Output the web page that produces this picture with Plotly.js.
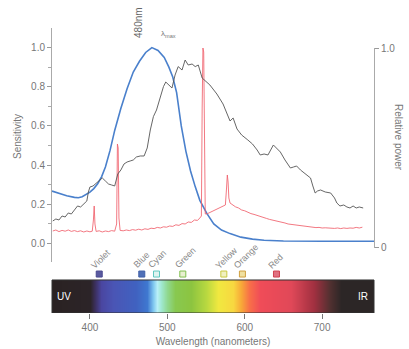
<!DOCTYPE html>
<html><head><meta charset="utf-8">
<script src="https://cdn.plot.ly/plotly-3.0.1.min.js"></script>
<style>html,body{margin:0;padding:0;background:#fff}#chart{width:409px;height:349px}</style>
</head><body><div id="chart"></div>
<script>
// Sensitivity (left axis)
const blueWl = [351,360,370,380,385,390,395,400,405,410,415,420,426,432,440,448,456,464,472,480,488,496,502,507,512,518,524,530,536,542,551,560,570,581,595,610,625,650,700,767];
const blueVal = [0.267,0.255,0.243,0.235,0.233,0.238,0.248,0.262,0.28,0.305,0.34,0.39,0.475,0.577,0.69,0.79,0.875,0.93,0.975,1.0,0.985,0.95,0.9,0.85,0.77,0.6,0.47,0.37,0.29,0.22,0.153,0.10,0.068,0.05,0.032,0.022,0.016,0.012,0.011,0.011];

// Relative power, black (right axis)
const blackWl = [352,356,360,364,368,372,376,380,384,388,392,396,398,400,404,408,412,416,420,424,428,432,436,440,444,448,452,456,460,465,470,474,478,482,486,491,495,498,501,506,510,514,519,523,527,532,536,540,545,549,555,564,572,581,585,590,596,604,610,616,620,625,630,637,641,646,652,659,663,667,672,678,685,688,691,694,698,704,711,716,719,723,728,732,736,740,744,748,753];
const blackVal = [0.135,0.145,0.14,0.16,0.155,0.175,0.17,0.19,0.21,0.205,0.22,0.235,0.28,0.305,0.31,0.325,0.335,0.35,0.335,0.32,0.315,0.31,0.37,0.39,0.42,0.43,0.435,0.44,0.455,0.46,0.46,0.5,0.59,0.657,0.69,0.757,0.807,0.83,0.82,0.80,0.865,0.907,0.89,0.94,0.915,0.92,0.907,0.915,0.85,0.835,0.815,0.77,0.72,0.635,0.65,0.595,0.565,0.54,0.52,0.49,0.465,0.47,0.465,0.515,0.5,0.48,0.44,0.40,0.405,0.41,0.39,0.37,0.35,0.31,0.275,0.285,0.29,0.28,0.275,0.25,0.225,0.21,0.215,0.205,0.2,0.21,0.2,0.205,0.2];

// Relative power, red lamp spectrum (right axis)
const redWl = [352,356,360,364,368,372,376,380,384,388,392,396,400,403,404.5,405.5,406.5,408,412,416,420,424,428,432,434.5,435.5,436.5,437.5,439,443,447,451,455,459,463,467,471,475,479,483,487,491,495,499,503,507,511,515,519,523,527,531,535,539,542,544,545,546,547,548,549,552,556,560,564,568,572,575,576.5,577.5,578.5,579.5,581,584,588,592,596,600,604,608,612,616,620,624,628,632,636,640,644,648,652,656,660,664,668,672,676,680,684,688,692,696,700,704,708,712,716,720,724,728,732,736,740,744,748,752];
const redVal = [0.085,0.09,0.082,0.088,0.084,0.09,0.083,0.087,0.082,0.086,0.08,0.085,0.081,0.084,0.14,0.21,0.12,0.083,0.086,0.08,0.085,0.082,0.087,0.084,0.12,0.52,0.5,0.15,0.088,0.086,0.09,0.087,0.092,0.089,0.094,0.09,0.096,0.093,0.099,0.097,0.103,0.1,0.106,0.104,0.11,0.108,0.116,0.113,0.122,0.12,0.13,0.128,0.14,0.138,0.15,0.16,0.7,1.0,0.98,0.4,0.17,0.172,0.18,0.186,0.195,0.2,0.21,0.215,0.3,0.365,0.33,0.25,0.225,0.215,0.206,0.2,0.19,0.186,0.178,0.172,0.168,0.162,0.158,0.152,0.148,0.143,0.14,0.136,0.132,0.128,0.125,0.12,0.118,0.115,0.113,0.11,0.108,0.107,0.104,0.105,0.102,0.103,0.1,0.101,0.099,0.1,0.098,0.1,0.097,0.1,0.098,0.1,0.099,0.103,0.1,0.104];

// Visible spectrum bar colour stops
const specWl = [351,400,406,414,430,460,474,481,486,492,500,510,530,550,565,585,595,605,620,660,690,710,725,767];
const specColor = ['#2a2222','#2c2428','#3c3060','#4a46a0','#4a55b5','#4062c0','#3f78d0','#80c8f0','#b8f0f8','#a0e8d0','#90d890','#88c850','#8cc440','#b8d840','#f0e840','#f8d840','#f8a838','#f87048','#f04c58','#e04858','#a03040','#503030','#2c2626','#2c2626'];

// Colour names
const colorNames = ['Violet','Blue','Cyan','Green','Yellow','Orange','Red'];
const colorWl = [412,467,486,520,573,597,641];
const colorFill = ['#5a5aa0','#5070b8','#e0f4f0','#e8f0d0','#f0f0c0','#f0e0a0','#e07080'];
const colorEdge = ['#4a4a90','#4060a8','#60c8c0','#80c050','#c8c840','#d0a040','#d04050'];

const xMin = 351, xMax = 767;
const scale = specColor.map((c,i)=>[(specWl[i]-xMin)/(xMax-xMin), c]);

const F = 'Liberation Sans, Arial, sans-serif';
const traces = [
  {type:'heatmap', x:specWl, y:[0,1], z:[specWl,specWl], colorscale:scale, zmin:xMin, zmax:xMax,
   zsmooth:'best', showscale:false, xaxis:'x', yaxis:'y3', hoverinfo:'skip'},
  {type:'scatter', mode:'markers', x:colorWl, y:colorWl.map(()=>1.86), xaxis:'x', yaxis:'y3',
   marker:{symbol:'square', size:6, color:colorFill, line:{color:colorEdge, width:1}}, cliponaxis:false},
  {type:'scatter', mode:'lines', x:redWl, y:redVal, yaxis:'y2', line:{color:'rgba(240,96,108,0.85)', width:1}},
  {type:'scatter', mode:'lines', x:blackWl, y:blackVal, yaxis:'y2', line:{color:'#555', width:0.9}},
  {type:'scatter', mode:'lines', x:blueWl, y:blueVal, yaxis:'y', line:{color:'#4a80cc', width:1.6}}
];

const ann = [
  {text:'Sensitivity', xref:'paper', yref:'paper', x:-0.13, y:0.62, textangle:-90, showarrow:false, font:{family:F,size:10,color:'#777'}},
  {text:'Relative power', xref:'paper', yref:'paper', x:1.1, y:0.615, textangle:90, showarrow:false, font:{family:F,size:10,color:'#777'}},
  {text:'480nm', xref:'x', yref:'paper', x:463, y:1.02, yanchor:'middle', textangle:-90, showarrow:false, font:{family:F,size:10,color:'#666'}},
  {text:'λ<sub>max</sub>', xref:'x', yref:'paper', x:502, y:1.005, showarrow:false, font:{family:F,size:8,color:'#777'}},
  {text:'UV', xref:'x', yref:'y3', x:366, y:0.5, showarrow:false, font:{family:F,size:10,color:'#fff'}},
  {text:'IR', xref:'x', yref:'y3', x:753, y:0.5, showarrow:false, font:{family:F,size:10,color:'#fff'}}
];
colorNames.forEach((n,i)=>ann.push({text:n, xref:'x', yref:'y3', x:colorWl[i], y:2.22, xanchor:'left', yanchor:'bottom', xshift:-13, yshift:-5,
  textangle:-45, showarrow:false, font:{family:F,size:9,color:'#888'}}));

const layout = {
  width:409, height:349, margin:{l:52, r:35, t:28, b:36},
  paper_bgcolor:'#fff', plot_bgcolor:'rgba(0,0,0,0)', showlegend:false,
  font:{family:F, size:10, color:'#777'},
  xaxis:{range:[xMin,xMax], anchor:'y3', tickvals:[400,500,600,700], ticks:'outside', ticklen:5, tickcolor:'#777',
    showgrid:false, zeroline:false, showline:false, tickfont:{family:F,size:10,color:'#777'},
    title:{text:'Wavelength (nanometers)', font:{family:F,size:10,color:'#777'}, standoff:5}},
  yaxis:{domain:[0.1789,1], range:[-0.095,1.1], anchor:'x', tickvals:[0,0.2,0.4,0.6,0.8,1.0], tickformat:'.1f',
    ticks:'outside', ticklen:4, tickcolor:'#999', showline:true, linecolor:'#aaa', linewidth:1, showgrid:false, zeroline:false,
    minor:{tickvals:[0.1,0.3,0.5,0.7,0.9], ticks:'outside', ticklen:3, tickcolor:'#aaa'},
    tickfont:{family:F,size:10,color:'#777'}},
  yaxis2:{domain:[0.2281,0.9298], range:[0,1], anchor:'x', side:'right', tickvals:[0,1], ticktext:['0','1.0'],
    ticks:'outside', ticklen:4, tickcolor:'#999', showline:true, linecolor:'#aaa', linewidth:1, showgrid:false, zeroline:false,
    tickfont:{family:F,size:10,color:'#777'}},
  yaxis3:{domain:[0,0.179], range:[-0.5,2.59], anchor:'x', visible:false, fixedrange:true},
  shapes:[{type:'rect', xref:'paper', yref:'y3', x0:0, x1:1, y0:-0.5, y1:1.5, line:{color:'#333', width:1}, fillcolor:'rgba(0,0,0,0)'}],
  annotations:ann
};
Plotly.newPlot('chart', traces, layout, {displayModeBar:false, staticPlot:true});
</script></body></html>
